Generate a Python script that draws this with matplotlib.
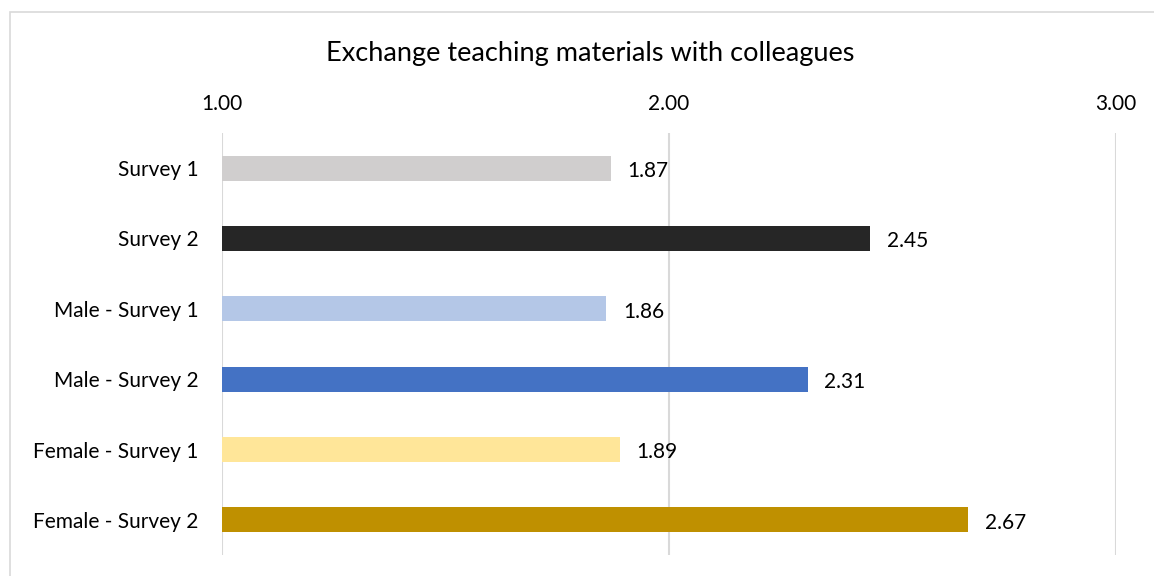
import matplotlib
matplotlib.use("Agg")
import matplotlib.pyplot as plt
from matplotlib.patches import Rectangle

categories = ["Survey 1", "Survey 2", "Male - Survey 1", "Male - Survey 2",
              "Female - Survey 1", "Female - Survey 2"]
values = [1.87, 2.45, 1.86, 2.31, 1.89, 2.67]
colors = ["#D0CECE", "#262626", "#B4C7E7", "#4472C4", "#FFE699", "#BF9000"]
xticks = [1.0, 2.0, 3.0]
title = "Exchange teaching materials with colleagues"

plt.rcParams['font.family'] = ['Lato', 'DejaVu Sans']

W, H = 1154, 576
fig = plt.figure(figsize=(W / 100, H / 100), dpi=100)
fig.patches.append(Rectangle((10 / W, -0.1), 1.2, 1 - 12 / H + 0.1,
                             transform=fig.transFigure, fill=False,
                             edgecolor="#D9D9D9", linewidth=1.2))

ax = fig.add_axes([222 / W, 1 - 555 / H, (1116 - 222) / W, (555 - 133) / H])
y = list(range(len(categories)))
ax.barh(y, [v - 1.0 for v in values], left=1.0, height=0.36, color=colors, zorder=3)
for yi, v in zip(y, values):
    ax.annotate(f"{v:.2f}", (v, yi), xytext=(12, -2), textcoords="offset points",
                va="center", ha="left", fontsize=15, color="#000000")

ax.set_xlim(1.0, 3.0)
ax.set_ylim(len(categories) - 0.5, -0.5)
ax.set_yticks(y)
ax.set_yticklabels(categories, fontsize=15)
for lbl in ax.get_yticklabels():
    lbl.set_verticalalignment("center_baseline")
ax.set_xticks(xticks)
ax.set_xticklabels([f"{t:.2f}" for t in xticks], fontsize=15)
ax.xaxis.tick_top()
ax.tick_params(axis="x", length=0, pad=14)
ax.tick_params(axis="y", length=0, pad=17)
for s in ax.spines.values():
    s.set_visible(False)
ax.grid(axis="x", color="#D9D9D9", linewidth=1.5, zorder=0)
ax.set_axisbelow(True)

fig.text(590 / W, 1 - 53 / H, title, ha="center", va="center", fontsize=19.5)

fig.savefig("out.png", dpi=100)
